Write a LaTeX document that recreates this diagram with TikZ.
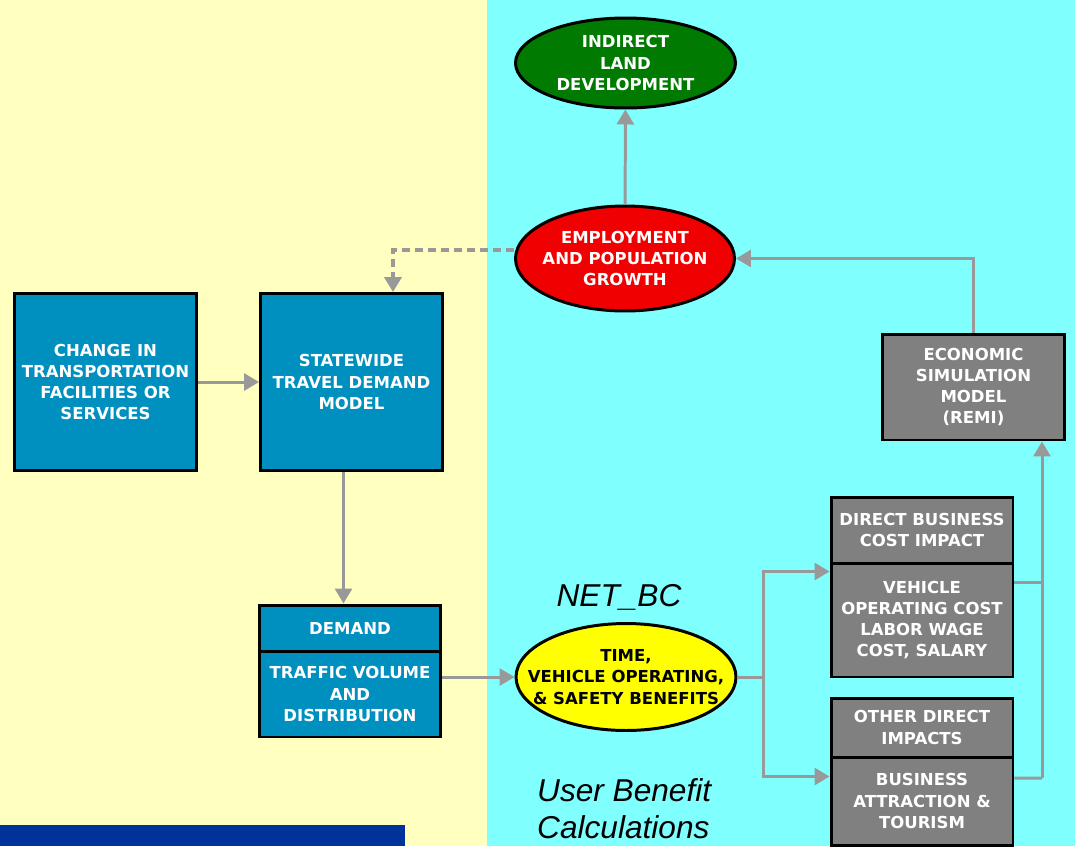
\documentclass[tikz,border=0pt]{standalone}
\usepackage{fontspec}
\setmainfont{Liberation Sans}
\newfontfamily\boxfamily{DejaVu Sans}
\usetikzlibrary{shapes.geometric,arrows.meta}

\definecolor{bgyellow}{RGB}{255,255,192}
\definecolor{bgcyan}{RGB}{128,255,255}
\definecolor{barblue}{RGB}{0,51,153}
\definecolor{boxblue}{RGB}{0,144,192}
\definecolor{boxgray}{RGB}{128,128,128}
\definecolor{linkgray}{RGB}{153,153,153}
\definecolor{ovalgreen}{RGB}{0,122,0}
\definecolor{ovalred}{RGB}{240,0,0}
\definecolor{ovalyellow}{RGB}{255,255,0}

\newcommand{\diagfont}{\boxfamily\fontsize{9.4}{12}\selectfont\bfseries}

\tikzset{
  bluebox/.style={draw=black, line width=1.7pt, fill=boxblue, text=white,
    font=\diagfont, align=center, minimum width=3.64cm},
  graybox/.style={draw=black, line width=1.7pt, fill=boxgray, text=white,
    font=\diagfont, align=center, minimum width=3.64cm},
  oval/.style={ellipse, draw=black, line width=1.7pt, font=\diagfont,
    align=center, inner xsep=-1cm, inner ysep=0pt, text=white},
  line/.style={draw=linkgray, line width=1.7pt},
  link/.style={line, -{Triangle[length=0.3cm,width=0.34cm]}},
  dotlink/.style={link, line width=2.2pt, dash pattern=on 0.16cm off 0.1cm},
  note/.style={font=\fontsize{18}{21.5}\selectfont\itshape, align=left}
}

\begin{document}
\begin{tikzpicture}[x=0.02cm, y=-0.02cm]
\useasboundingbox (0,0) rectangle (1075,846);
\fill[bgyellow] (0,0) rectangle (487,846);
\fill[bgcyan] (487,0) rectangle (1075,846);
\fill[barblue] (0,825) rectangle (405,846);

% left side
\node[bluebox, minimum height=3.54cm] (change) at (105.5,382)
  {CHANGE IN\\TRANSPORTATION\\FACILITIES OR\\SERVICES};
\node[bluebox, minimum height=3.54cm] (statewide) at (351.5,382)
  {STATEWIDE\\TRAVEL DEMAND\\MODEL};
\node[bluebox, minimum width=3.62cm, minimum height=0.92cm] (demand) at (350,628) {DEMAND};
\node[bluebox, minimum width=3.62cm, minimum height=1.72cm] (traffic) at (350,694)
  {TRAFFIC VOLUME\\AND\\DISTRIBUTION};

% ovals
\node[oval, fill=ovalgreen, minimum width=4.4cm, minimum height=1.8cm] (indirect) at (625.5,63)
  {INDIRECT\\LAND\\DEVELOPMENT};
\node[oval, fill=ovalred, minimum width=4.38cm, minimum height=2.1cm] (growth) at (625,258.5)
  {EMPLOYMENT\\AND POPULATION\\GROWTH};
\node[oval, fill=ovalyellow, text=black, minimum width=4.4cm, minimum height=2.14cm]
  (benefits) at (626,677) {TIME,\\VEHICLE OPERATING,\\\& SAFETY BENEFITS};

% right side
\node[graybox, minimum height=2.12cm] (econ) at (973.5,387)
  {ECONOMIC\\SIMULATION\\MODEL\\(REMI)};
\node[graybox, minimum height=1.32cm] (direct) at (922,530) {DIRECT BUSINESS\\COST IMPACT};
\node[graybox, minimum height=2.28cm] (vehicle) at (922,620)
  {VEHICLE\\OPERATING COST\\LABOR WAGE\\COST, SALARY};
\node[graybox, minimum height=1.18cm] (other) at (922,727.5) {OTHER DIRECT\\IMPACTS};
\node[graybox, minimum height=1.76cm] (business) at (922,801)
  {BUSINESS\\ATTRACTION \&\\TOURISM};

\node[note] (netbc) at (619,597) {NET\_BC};
\node[note, anchor=north west] (userben) at (531,772) {User Benefit\\Calculations};

% connectors
\foreach \a/\b in {change/statewide, growth/indirect}
  \draw[link] (\a) -- (\b);
\draw[link] ([xshift=-0.16cm]statewide.south) -- ([xshift=-0.16cm]statewide.south |- demand.north);
\draw[link] (traffic.east |- benefits.west) -- (benefits.west);
\draw[line] (benefits.east) -- ++(26,0) coordinate (split);
\draw[link] (split) |- ([yshift=-0.2cm]vehicle.north west);
\draw[link] (split) |- ([yshift=-0.42cm]business.north west);
\coordinate (merge) at (1042,778);
\draw[line] ([yshift=0.46cm]business.east) -- (merge);
\draw[line] ([yshift=0.76cm]vehicle.east) -- ([yshift=0.76cm]vehicle.east -| merge);
\draw[link] (merge) -- (merge |- econ.south);
\draw[link] (econ.north) |- (growth.east);
\draw[dotlink] ([yshift=0.17cm]growth.west) -| ([xshift=0.83cm]statewide.north);
\end{tikzpicture}
\end{document}
